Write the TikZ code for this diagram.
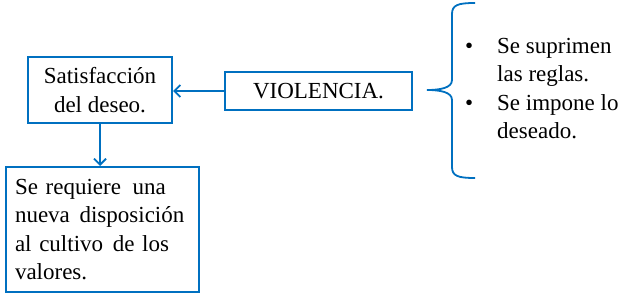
\documentclass[tikz,border=0pt]{standalone}
\usepackage{fontspec}
\setmainfont{Liberation Serif}
\usetikzlibrary{arrows.meta}
\definecolor{boxblue}{RGB}{0,112,192}

\begin{document}
\begin{tikzpicture}[x=1pt,y=-1pt,box/.style={draw=boxblue,line width=2pt,fill=white,inner sep=0pt,font=\fontsize{23}{28.5}\selectfont},link/.style={draw=boxblue,line width=1.8pt,-{Straight Barb[length=6pt,width=12pt]}},brace/.style={draw=boxblue,line width=1.8pt}]
\useasboundingbox (0,0) rectangle (629,302);
\coordinate (S) at (100,90);
\coordinate (V) at (318.5,91);
\coordinate (R) at (102.5,229.5);
\node[box,minimum width=144pt,minimum height=66pt,align=center] (sat) at (S) {Satisfacción\\del deseo.};
\node[box,minimum width=187pt,minimum height=38pt] (viol) at (V) {VIOLENCIA.};
\node[box,minimum height=125pt,inner xsep=9pt,text width=175pt,align=left] (req) at (R) {Se requiere\hspace{4pt} una\\nueva\hspace{2pt} disposición\\al cultivo\hspace{2pt} de los\\valores.};
\draw[link] (viol.west) -- (viol.west -| sat.east);
\draw[link] (sat.south) -- (sat.south |- req.north);
\draw[brace] (475,3) .. controls (458,3) and (452,5) .. (452,14) -- (452,80) .. controls (452,88) and (440,90) .. (427,90) .. controls (440,90) and (452,92) .. (452,100) -- (452,167) .. controls (452,176) and (458,178) .. (475,178);
\node[anchor=north west,inner sep=0pt,font=\fontsize{23}{28.5}\selectfont] (rules) at (465,33) {\begin{tabular}{@{}p{32pt}@{}l@{}}
\textbullet & Se suprimen\\
 & las reglas.\\
\textbullet & Se impone lo\\
 & deseado.
\end{tabular}};
\end{tikzpicture}
\end{document}
